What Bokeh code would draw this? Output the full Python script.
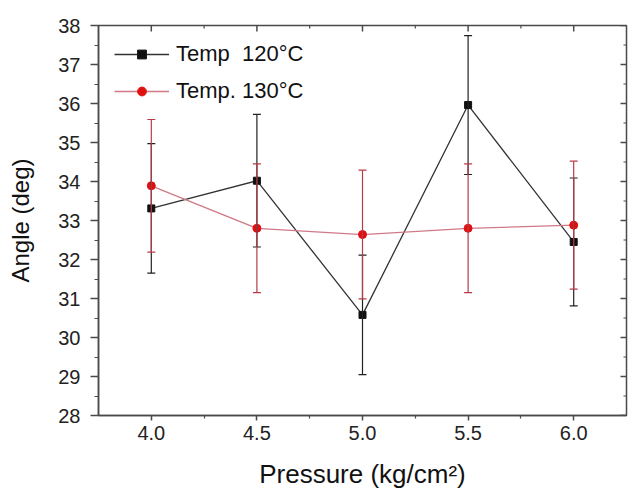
import math
from bokeh.plotting import figure
from bokeh.models import (ColumnDataSource, Whisker, TeeHead, FixedTicker,
                          PrintfTickFormatter, Legend, LegendItem, Range1d)
from bokeh.embed import file_html
from bokeh.resources import INLINE

pressure = [4.0, 4.5, 5.0, 5.5, 6.0]
angle_120 = [33.31, 34.02, 30.58, 35.96, 32.45]
err_120 = [1.66, 1.70, 1.53, 1.78, 1.64]
angle_130 = [33.89, 32.80, 32.64, 32.80, 32.88]
err_130 = [1.70, 1.65, 1.65, 1.65, 1.64]

x_major = [4.0, 4.5, 5.0, 5.5, 6.0]
x_minor = [4.25, 4.75, 5.25, 5.75]
y_major = list(range(28, 39))
y_minor = [v + 0.5 for v in range(28, 38)]

FONT = "Liberation Sans"
AX = "#4a4a4a"

xr = Range1d(3.75, 6.25)
yr = Range1d(28, 38)
p = figure(frame_width=528, frame_height=390, x_range=xr, y_range=yr,
           output_backend="svg", toolbar_location=None,
           min_border_left=98, min_border_right=2, min_border_top=25, min_border_bottom=76)
p.xgrid.visible = False
p.ygrid.visible = False
p.outline_line_color = AX
p.outline_line_width = 1.5
p.background_fill_color = "white"
p.border_fill_color = "white"

xt = FixedTicker(ticks=x_major, minor_ticks=x_minor)
yt = FixedTicker(ticks=y_major, minor_ticks=y_minor)

for ax, tk, fmt in ((p.xaxis[0], xt, "%.1f"), (p.yaxis[0], yt, "%d")):
    ax.ticker = tk
    ax.formatter = PrintfTickFormatter(format=fmt)
    ax.axis_line_color = AX
    ax.axis_line_width = 1.5
    ax.major_tick_line_color = AX
    ax.minor_tick_line_color = AX
    ax.major_tick_line_width = 1.5
    ax.minor_tick_line_width = 1.2
    ax.major_tick_in = 0
    ax.minor_tick_in = 0
    ax.major_label_text_font = FONT
    ax.major_label_text_font_size = "20px"
    ax.major_label_text_color = "#222222"
    ax.axis_label_text_font = FONT
    ax.axis_label_text_font_style = "normal"
    ax.axis_label_text_color = "#111111"

p.xaxis[0].major_tick_out = 5
p.xaxis[0].minor_tick_out = 3
p.xaxis[0].major_label_standoff = 5
p.xaxis[0].axis_label = "Pressure (kg/cm²)"
p.xaxis[0].axis_label_text_font_size = "26px"
p.xaxis[0].axis_label_standoff = 16

p.yaxis[0].major_tick_out = 8
p.yaxis[0].minor_tick_out = 4
p.yaxis[0].major_label_standoff = 10
p.yaxis[0].axis_label = "Angle (deg)"
p.yaxis[0].axis_label_text_font_size = "24px"
p.yaxis[0].axis_label_standoff = 21

# inward ticks on the top and right frame edges (half of each dash is clipped by the frame)
p.scatter(x=x_major, y=[yr.end] * len(x_major), marker="dash", angle=math.pi / 2, size=12,
          line_color=AX, line_width=1.5)
p.scatter(x=x_minor, y=[yr.end] * len(x_minor), marker="dash", angle=math.pi / 2, size=6,
          line_color=AX, line_width=1.2)
p.scatter(x=[xr.end] * len(y_major), y=y_major, marker="dash", size=12, line_color=AX, line_width=1.5)
p.scatter(x=[xr.end] * len(y_minor), y=y_minor, marker="dash", size=6, line_color=AX, line_width=1.2)

src120 = ColumnDataSource(data=dict(x=pressure, y=angle_120,
                                    lo=[a - e for a, e in zip(angle_120, err_120)],
                                    up=[a + e for a, e in zip(angle_120, err_120)]))
src130 = ColumnDataSource(data=dict(x=pressure, y=angle_130,
                                    lo=[a - e for a, e in zip(angle_130, err_130)],
                                    up=[a + e for a, e in zip(angle_130, err_130)]))

BLK_LINE = "#333333"
BLK_BAR = "#222222"
RED_LINE = "#d07a88"
RED_BAR = "#b83a48"
RED_MK = "#e01010"

l1 = p.line("x", "y", source=src120, line_color=BLK_LINE, line_width=1.3)
w1 = Whisker(source=src120, base="x", upper="up", lower="lo", line_color=BLK_BAR, line_width=1.2,
             upper_head=TeeHead(size=8, line_color=BLK_BAR, line_width=1.2),
             lower_head=TeeHead(size=8, line_color=BLK_BAR, line_width=1.2), level="glyph")
p.add_layout(w1)
m1 = p.scatter("x", "y", source=src120, marker="square", size=7, fill_color="#111111", line_color="#111111")

l2 = p.line("x", "y", source=src130, line_color=RED_LINE, line_width=1.3)
w2 = Whisker(source=src130, base="x", upper="up", lower="lo", line_color=RED_BAR, line_width=1.2,
             upper_head=TeeHead(size=8, line_color=RED_BAR, line_width=1.2),
             lower_head=TeeHead(size=8, line_color=RED_BAR, line_width=1.2), level="glyph")
p.add_layout(w2)
m2 = p.scatter("x", "y", source=src130, marker="circle", size=8, fill_color=RED_MK, line_color=RED_MK)

legend = Legend(items=[LegendItem(label="Temp  120°C", renderers=[l1, m1]),
                       LegendItem(label="Temp. 130°C", renderers=[l2, m2])],
                location="top_left", margin=16, padding=0, spacing=11,
                glyph_width=55, glyph_height=22, label_standoff=7,
                label_text_font=FONT, label_text_font_size="22px", label_text_color="#111111",
                border_line_color=None, background_fill_alpha=0)
p.add_layout(legend, "center")

open("out.html", "w").write(file_html(p, INLINE))
